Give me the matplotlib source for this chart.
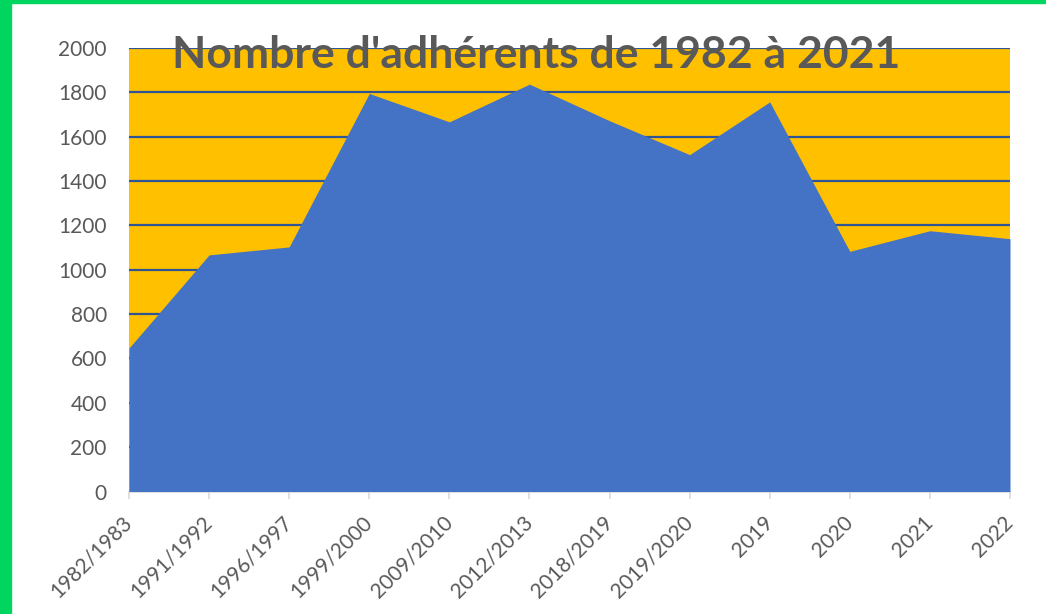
import matplotlib.pyplot as plt
from matplotlib.patches import Rectangle

saisons = ['1982/1983', '1991/1992', '1996/1997', '1999/2000', '2009/2010',
           '2012/2013', '2018/2019', '2019/2020', '2019', '2020', '2021', '2022']
adherents = [647, 1067, 1103, 1795, 1667, 1837, 1672, 1519, 1757, 1083, 1176, 1140]
yticks = [0, 200, 400, 600, 800, 1000, 1200, 1400, 1600, 1800, 2000]

W, H = 1046, 614
fig = plt.figure(figsize=(W / 100, H / 100), dpi=100)
fig.patch.set_facecolor('white')

# green frame on left and top
fig.patches.append(Rectangle((0, 0), 11 / W, 1, transform=fig.transFigure,
                             color='#00D65F', zorder=0))
fig.patches.append(Rectangle((0, 1 - 3 / H), 1, 3 / H, transform=fig.transFigure,
                             color='#00D65F', zorder=0))

ax = fig.add_axes([129 / W, (H - 491.5) / H, (1010 - 129) / W, (491.5 - 48) / H])
ax.set_facecolor('#FFC000')

x = list(range(len(saisons)))
ax.fill_between(x, adherents, 0, color='#4472C4', linewidth=0, zorder=3)

ax.set_xlim(0, len(saisons) - 1)
ax.set_ylim(0, 2000)
ax.set_yticks(yticks)
ax.set_xticks(x)
ax.set_xticklabels(saisons, rotation=45, ha='right', va='center',
                   rotation_mode='anchor')

ax.yaxis.grid(True, color='#2F5597', linewidth=1.6, zorder=1)
ax.set_axisbelow(True)

for s in ['left', 'top', 'right']:
    ax.spines[s].set_visible(False)
ax.spines['bottom'].set_color('#D9D9D9')
ax.spines['bottom'].set_linewidth(1.2)

ax.tick_params(axis='y', length=0, pad=16, labelcolor='#595959')
ax.tick_params(axis='x', length=5, width=1.2, color='#D9D9D9', pad=15,
               labelcolor='#595959')
for lab in ax.get_xticklabels() + ax.get_yticklabels():
    lab.set_fontfamily('Lato')
    lab.set_fontsize(15)

fig.text(536 / W, 1 - 68 / H, "Nombre d'adhérents de 1982 à 2021",
         ha='center', va='baseline', fontsize=32, fontweight='bold',
         color='#595959', family='Lato', zorder=5)

fig.savefig('out.png', dpi=100)
